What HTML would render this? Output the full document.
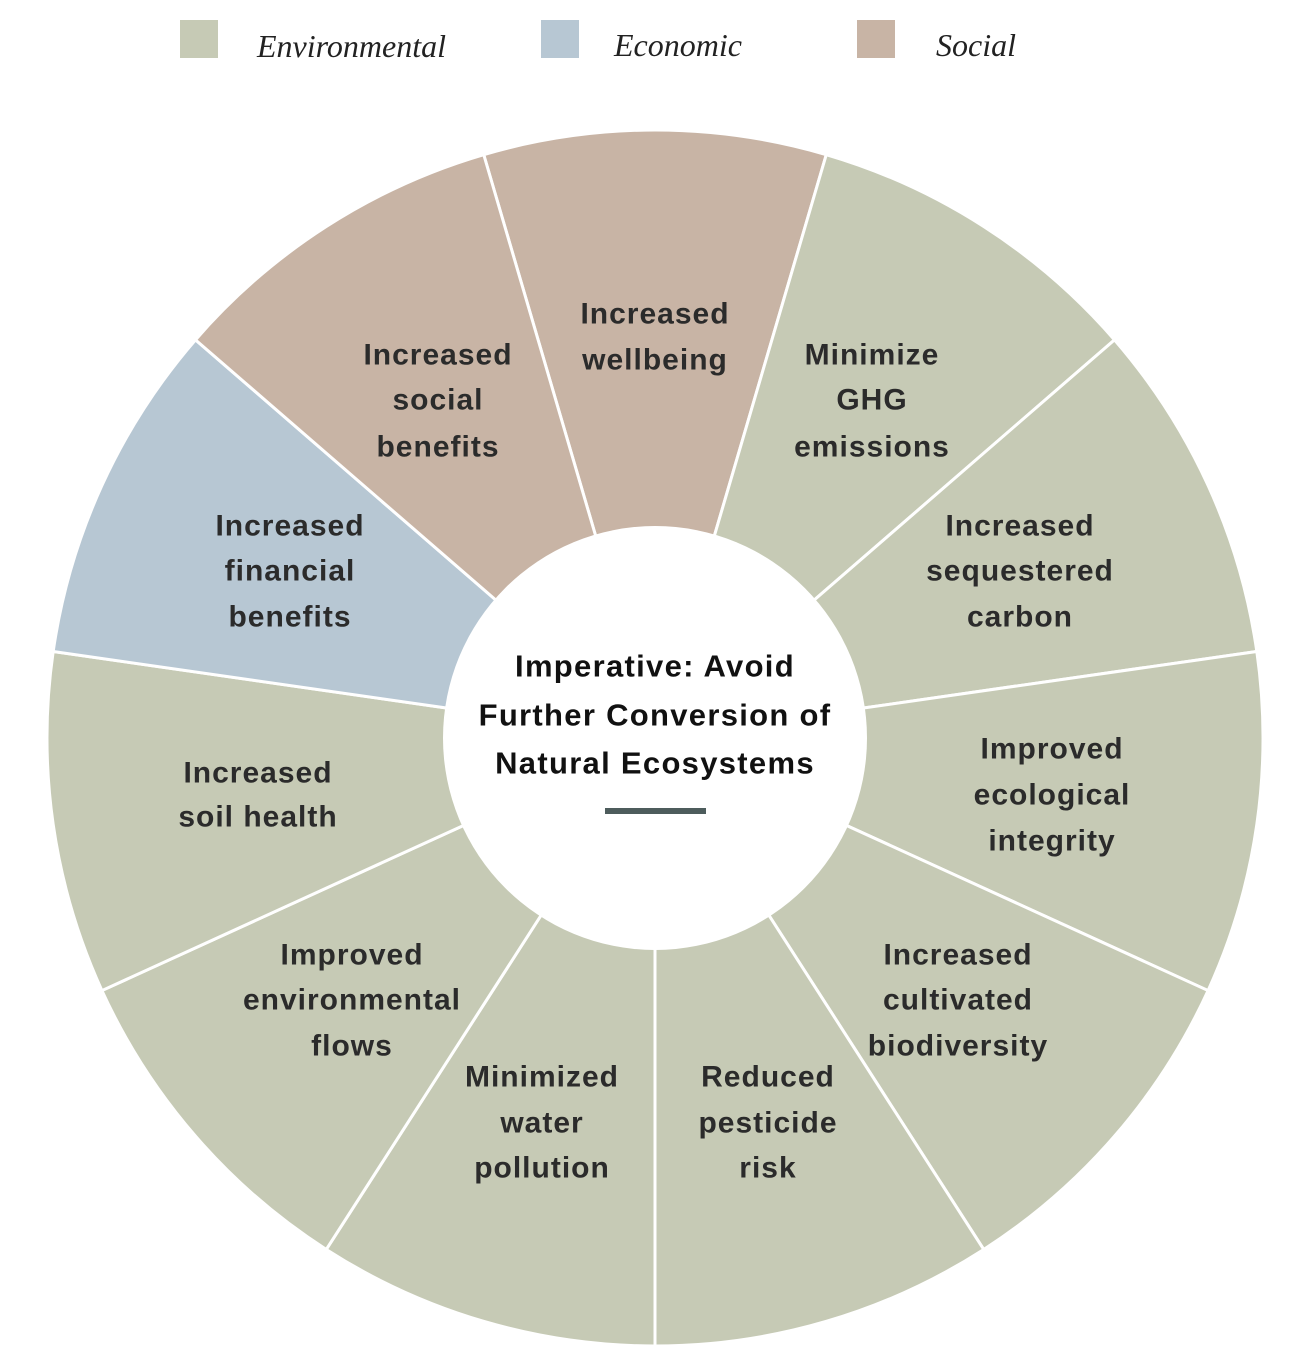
<!DOCTYPE html>
<html><head><meta charset="utf-8"><style>
html,body{margin:0;padding:0;background:#fff;}
svg{display:block}
.t{font-family:"Liberation Sans",sans-serif;font-weight:bold;font-size:30px;letter-spacing:1px;fill:#2b2b2b;text-anchor:middle;dominant-baseline:central}
.c{fill:#111;font-size:31px;letter-spacing:1.3px}
.lg{font-family:"Liberation Serif",serif;font-style:italic;font-size:32px;fill:#222}
</style></head><body>
<svg id="s" width="1315" height="1366" viewBox="0 0 1315 1366" xmlns="http://www.w3.org/2000/svg">
<rect x="180" y="20" width="38" height="38" fill="#c6cab5"/>
<text class="lg" x="257" y="57">Environmental</text>
<rect x="541" y="20" width="38" height="38" fill="#b7c7d3"/>
<text class="lg" x="614" y="56">Economic</text>
<rect x="857" y="20" width="38" height="38" fill="#c8b4a5"/>
<text class="lg" x="936" y="56">Social</text>
<g id="w"></g>
<circle cx="655" cy="738" r="212" fill="#fff"/>
<g class="t">
<text x="655" y="314">Increased</text><text x="655" y="360">wellbeing</text>
<text x="872" y="355">Minimize</text><text x="872" y="400">GHG</text><text x="872" y="447">emissions</text>
<text x="1020" y="526">Increased</text><text x="1020" y="571">sequestered</text><text x="1020" y="617">carbon</text>
<text x="1052" y="749">Improved</text><text x="1052" y="795">ecological</text><text x="1052" y="841">integrity</text>
<text x="958" y="955">Increased</text><text x="958" y="1000">cultivated</text><text x="958" y="1046">biodiversity</text>
<text x="768" y="1077">Reduced</text><text x="768" y="1123">pesticide</text><text x="768" y="1168">risk</text>
<text x="542" y="1077">Minimized</text><text x="542" y="1123">water</text><text x="542" y="1168">pollution</text>
<text x="352" y="955">Improved</text><text x="352" y="1000">environmental</text><text x="352" y="1046">flows</text>
<text x="258" y="773">Increased</text><text x="258" y="817">soil health</text>
<text x="290" y="526">Increased</text><text x="290" y="571">financial</text><text x="290" y="617">benefits</text>
<text x="438" y="355">Increased</text><text x="438" y="400">social</text><text x="438" y="447">benefits</text>
<text class="t c" x="655" y="666">Imperative: Avoid</text>
<text class="t c" x="655" y="715">Further Conversion of</text>
<text class="t c" x="655" y="763">Natural Ecosystems</text>
</g>
<rect x="605" y="808" width="101" height="6" fill="#4d5c5c"/>
</svg>
<script>
var cx=655,cy=738,R=608,r=200,g=document.getElementById('w');
var cols=['#c8b4a5','#c6cab5','#c6cab5','#c6cab5','#c6cab5','#c6cab5','#c6cab5','#c6cab5','#c6cab5','#b7c7d3','#c8b4a5'];
var st=360/11;
function p(a,rr){var t=a*Math.PI/180;return (cx+rr*Math.sin(t)).toFixed(2)+','+(cy-rr*Math.cos(t)).toFixed(2);}
var h='';
for(var i=0;i<11;i++){var a0=-st/2+i*st,a1=a0+st;
h+='<path d="M'+p(a0,r)+' L'+p(a0,R)+' A'+R+','+R+' 0 0 1 '+p(a1,R)+' L'+p(a1,r)+' Z" fill="'+cols[i]+'" stroke="#fff" stroke-width="3"/>';}
g.innerHTML=h;
</script>
</body></html>
